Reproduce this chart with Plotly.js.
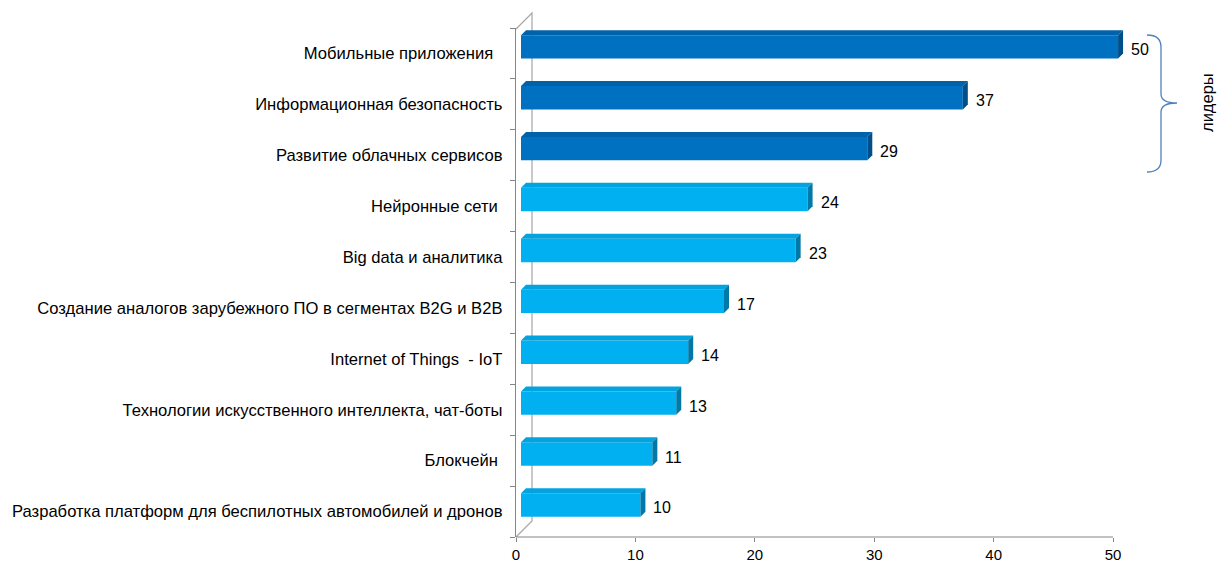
<!DOCTYPE html>
<html>
<head>
<meta charset="utf-8">
<script src="https://cdn.plot.ly/plotly-3.0.1.min.js"></script>
<style>html,body{margin:0;padding:0;background:#fff;}#chart{width:1218px;height:563px;}</style>
</head>
<body>
<div id="chart"></div>
<script>
// ---- data ----
const categories = [
  "Мобильные приложения\u00A0\u00A0",
  "Информационная безопасность",
  "Развитие облачных сервисов",
  "Нейронные сети\u00A0",
  "Big data и аналитика",
  "Создание аналогов зарубежного ПО в сегментах B2G и B2B",
  "Internet of Things \u00A0- IoT",
  "Технологии искусственного интеллекта, чат-боты",
  "Блокчейн\u00A0",
  "Разработка платформ для беспилотных автомобилей и дронов"
];
const values = [50, 37, 29, 24, 23, 17, 14, 13, 11, 10];
const leaderCount = 3;
const leaderLabel = "лидеры";
const xTicks = [0, 10, 20, 30, 40, 50];

// ---- style / geometry ----
const ML = 516, MT = 28, PW = 609, PH = 509;
const XMAX = 51;
const pxX = XMAX / PW;
const pxY = categories.length / PH;
const BASE = 5 * pxX;
const DX = 5 * pxX, DY = 5 * pxY;
const WIDTH = 0.46, OFF = -0.36;

const darkFront = "#0070C0", darkTop = "#0062AA", darkSide = "#004F8A";
const lightFront = "#00B0F0", lightTop = "#02A3DE", lightSide = "#0079A8";

const idx = categories.map((_, i) => i);
const isLeader = i => i < leaderCount;

const bars = {
  type: "bar", orientation: "h",
  y: idx, x: values, base: BASE,
  width: WIDTH, offset: OFF,
  marker: { color: idx.map(i => isLeader(i) ? darkFront : lightFront), line: { width: 0 } },
  hoverinfo: "skip"
};

const shapes = [];
idx.forEach(i => {
  const v = values[i];
  const yTop = i + OFF, yBot = i + OFF + WIDTH;
  const x0 = BASE, x1 = BASE + v;
  shapes.push({
    type: "path", xref: "x", yref: "y", layer: "above",
    path: `M${x0},${yTop} L${x1},${yTop} L${x1 + DX},${yTop - DY} L${x0 + DX},${yTop - DY} Z`,
    fillcolor: isLeader(i) ? darkTop : lightTop, line: { width: 0 }
  });
  shapes.push({
    type: "path", xref: "x", yref: "y", layer: "above",
    path: `M${x1},${yTop} L${x1 + DX},${yTop - DY} L${x1 + DX},${yBot - DY} L${x1},${yBot} Z`,
    fillcolor: isLeader(i) ? darkSide : lightSide, line: { width: 0 }
  });
});

const PX = p => (p - ML) / PW;
const PY = p => (MT + PH - p) / PH;

const wallColor = "#A6A6A6";
shapes.push({ type: "path", xref: "paper", yref: "paper", layer: "below",
  path: `M${PX(516)},${PY(29)} L${PX(532)},${PY(13)} L${PX(532)},${PY(521)} L${PX(516)},${PY(537)}`,
  line: { color: wallColor, width: 1.2 } });
shapes.push({ type: "line", xref: "x", yref: "paper", x0: 0, x1: xTicks[xTicks.length - 1], y0: 0, y1: 0,
  line: { color: "#868686", width: 1.2 } });

const bc = "#4F81BD";
shapes.push({ type: "path", xref: "paper", yref: "paper",
  path: `M${PX(1147)},${PY(35)} Q${PX(1161)},${PY(35)} ${PX(1161)},${PY(47)} L${PX(1161)},${PY(94)} Q${PX(1161)},${PY(103)} ${PX(1177)},${PY(103)} Q${PX(1161)},${PY(103)} ${PX(1161)},${PY(112)} L${PX(1161)},${PY(160)} Q${PX(1161)},${PY(172)} ${PX(1147)},${PY(172)}`,
  line: { color: bc, width: 1.3 } });

const valueAnnotations = values.map((v, i) => ({
  xref: "x", yref: "y", x: v + BASE + DX, y: i + OFF + WIDTH / 2 + 0.06,
  text: String(v), showarrow: false, xanchor: "left", yanchor: "middle", xshift: 6,
  font: { size: 16, color: "#000" }
}));

const layout = {
  width: 1218, height: 563,
  margin: { l: ML, r: 1218 - ML - PW, t: MT, b: 563 - MT - PH, pad: 0 },
  paper_bgcolor: "#fff", plot_bgcolor: "rgba(0,0,0,0)",
  showlegend: false,
  font: { family: "Liberation Sans, Arial, sans-serif", size: 15, color: "#000" },
  xaxis: {
    range: [0, XMAX], showgrid: false, zeroline: false, showline: false,
    tickvals: xTicks, ticks: "outside", ticklen: 4, tickcolor: "#868686",
    tickfont: { size: 15 }, fixedrange: true
  },
  yaxis: {
    range: [categories.length - 0.5, -0.5], showgrid: false, zeroline: false,
    showline: true, linecolor: "#868686", linewidth: 1.2,
    tickvals: idx, ticktext: categories,
    ticks: "outside", ticklen: 9, tickcolor: "rgba(0,0,0,0)",
    tickfont: { size: 16.6 },
    minor: { tickvals: categories.concat([""]).map((_, i) => i - 0.5), ticks: "outside", ticklen: 5, tickcolor: "#868686", showgrid: false },
    fixedrange: true
  },
  shapes: shapes,
  annotations: valueAnnotations.concat([{
    xref: "paper", yref: "paper", x: PX(1207), y: PY(103),
    text: leaderLabel, showarrow: false, textangle: -90,
    font: { size: 16.5, color: "#000" }, xanchor: "center", yanchor: "middle"
  }])
};

Plotly.newPlot("chart", [bars], layout, { displayModeBar: false, staticPlot: true });
</script>
</body>
</html>
